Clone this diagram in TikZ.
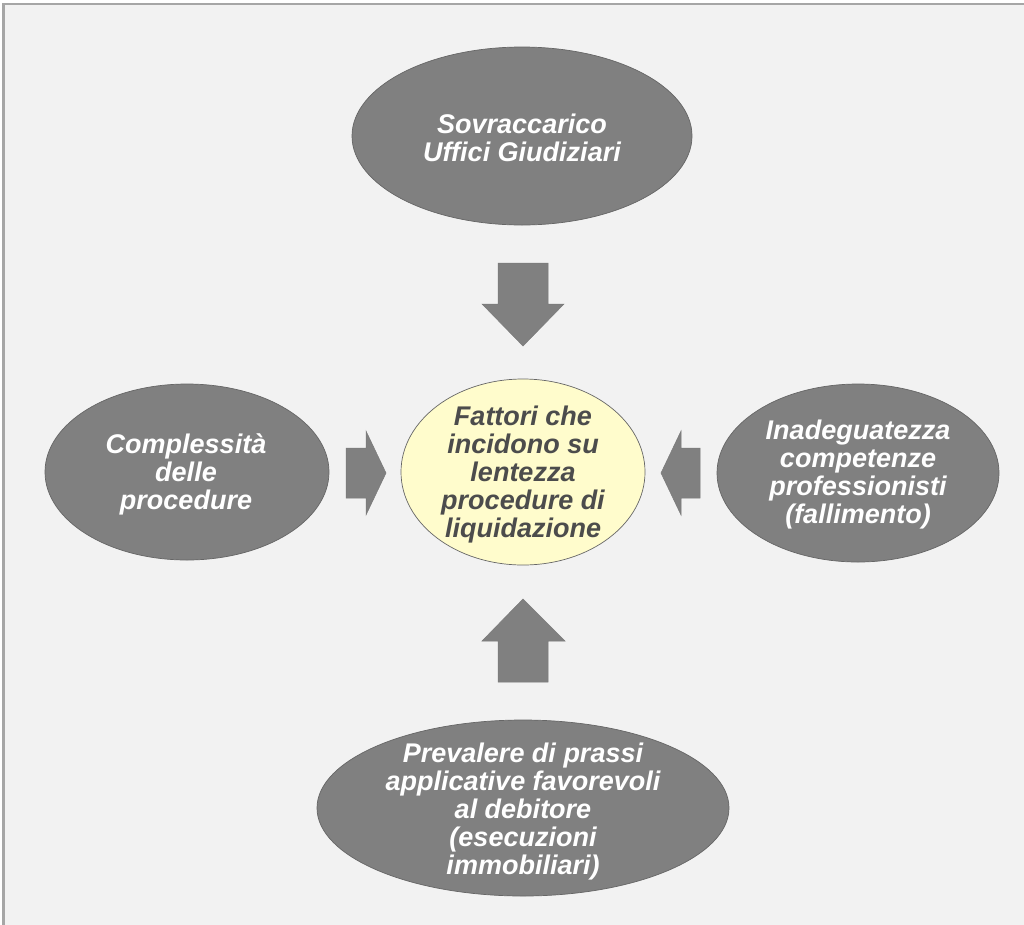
\documentclass[tikz,border=0pt]{standalone}
\usepackage{fontspec}
\setmainfont{Liberation Sans}
\begin{document}
\begin{tikzpicture}[x=1pt,y=-1pt,
  frame/.style={draw=black!35,fill=black!5,line width=2.5pt},
  grayell/.style={fill=black!50,draw=black!60,line width=0.7pt},
  coreell/.style={fill=yellow!20,draw=black!60,line width=0.7pt},
  blockarrow/.style={fill=black!50,draw=black!52,line width=0.5pt},
  lbl/.style={align=center,inner sep=0pt,font=\fontsize{27}{28}\selectfont\bfseries\itshape},
  outlbl/.style={lbl,text=white},
  corelbl/.style={lbl,text=black!70}]
\useasboundingbox (0,0) rectangle (1024,924);
\clip (0,0) rectangle (1024,924);
\path[frame] (3.5,4) rectangle (1040,940);
% ellipses
\path[grayell] (522,136) ellipse [x radius=170,y radius=89];
\path[grayell] (187,472) ellipse [x radius=142,y radius=88];
\path[grayell] (858,473) ellipse [x radius=141,y radius=89];
\path[grayell] (523,808) ellipse [x radius=206,y radius=88];
\path[coreell] (523,472) ellipse [x radius=122,y radius=93];
% labels
\node[outlbl] (top) at (522,138) {Sovraccarico\\Uffici Giudiziari};
\node[outlbl] (left) at (186,474) {Complessità\\delle\\procedure};
\node[outlbl] (right) at (858,475) {Inadeguatezza\\competenze\\professionisti\\(fallimento)};
\node[outlbl] (bottom) at (523,812) {Prevalere di prassi\\applicative favorevoli\\al debitore\\(esecuzioni\\immobiliari)};
\node[corelbl] (core) at (523,475) {Fattori che\\incidono su\\lentezza\\procedure di\\liquidazione};
% block arrows
\path[blockarrow] (498,263) -- (548,263) -- (548,304) -- (564,304) -- (523,346) -- (482,304) -- (498,304) -- cycle;
\path[blockarrow] (498,682) -- (548,682) -- (548,641) -- (565,641) -- (523,599) -- (482,641) -- (498,641) -- cycle;
\path[blockarrow] (346,448) -- (366,448) -- (366,431) -- (386,473) -- (366,515) -- (366,498) -- (346,498) -- cycle;
\path[blockarrow] (700,448) -- (681,448) -- (681,431) -- (661,473) -- (681,515) -- (681,498) -- (700,498) -- cycle;
\end{tikzpicture}
\end{document}
